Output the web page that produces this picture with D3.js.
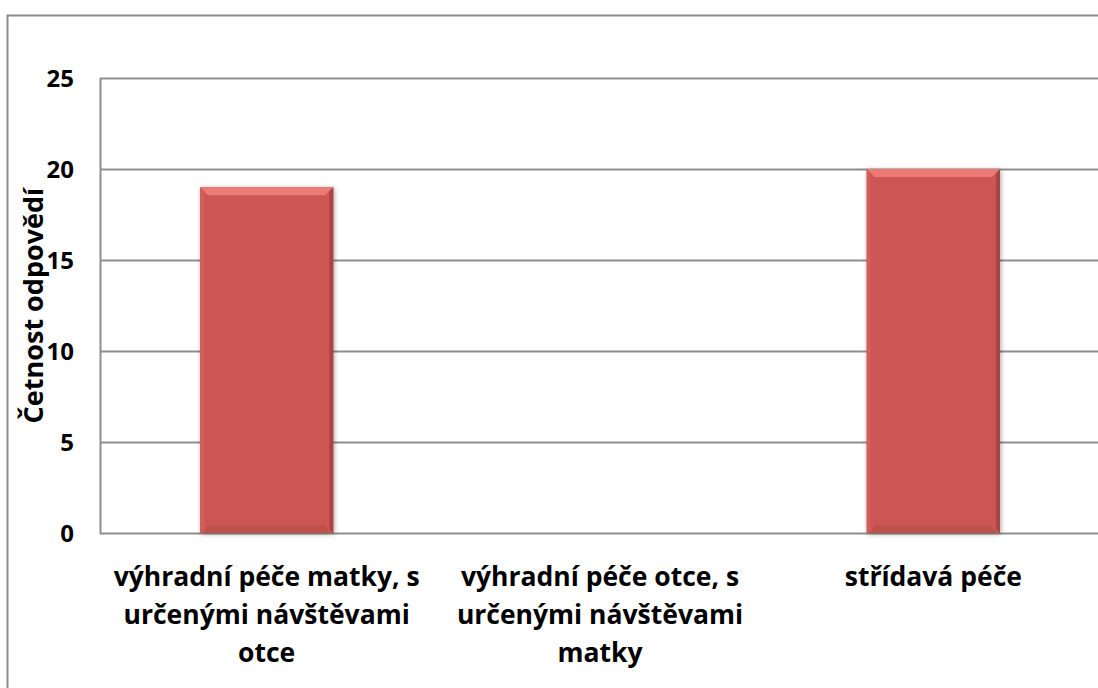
<!DOCTYPE html>
<html>
    <head>
        <meta charset="utf-8">
        <script src="https://d3js.org/d3.v7.min.js"></script>
        <style>
            body{margin:0;background:#fff;}
            text{font-family:"Open Sans", sans-serif;font-weight:bold;fill:#000;}
        </style>
    </head>
    <body>
        <svg height="688" width="1098" id="chart"></svg>
        <script>
            // data
            const categories=["výhradní péče matky, s\nurčenými návštěvami\notce",
                              "výhradní péče otce, s\nurčenými návštěvami\nmatky",
                              "střídavá péče"];
            const counts=[19, 0, 20];
            const yTicks=[0, 5, 10, 15, 20, 25];
            const yTitle="Četnost odpovědí";

            let svg=d3.select("#chart");
            let margin={top:78, right:-2, bottom:155, left:100};
            let width=+svg.attr("width");
            let height=+svg.attr("height");

            // outer chart border (cropped at right and bottom like the original)
            svg.append("rect")
                .attr("x", 7.5).attr("y", 15.5)
                .attr("width", width).attr("height", height)
                .style("fill", "none").style("stroke", "#8c8c8c").style("stroke-width", 2);

            let x=d3.scaleBand()
                .domain(categories)
                .range([margin.left, width-margin.right])
                .paddingInner(0.6)
                .paddingOuter(0.3);
            let y=d3.scaleLinear()
                .domain([0, 25])
                .range([height-margin.bottom, margin.top]);

            let defs=svg.append("defs");
            let sh=defs.append("filter").attr("id", "shadow")
                .attr("x", "-10%").attr("y", "-10%").attr("width", "120%").attr("height", "120%");
            sh.append("feGaussianBlur").attr("in", "SourceAlpha").attr("stdDeviation", 2.5);
            sh.append("feOffset").attr("dx", 1).attr("dy", 1).attr("result", "b");
            sh.append("feComponentTransfer").append("feFuncA").attr("type", "linear").attr("slope", 0.35);
            let mg=sh.append("feMerge");
            mg.append("feMergeNode");
            mg.append("feMergeNode").attr("in", "SourceGraphic");

            // gridlines
            let grid=svg.append("g").attr("class", "grid");
            grid.selectAll("line")
                .data(yTicks)
                .join("line")
                .attr("x1", margin.left).attr("x2", width)
                .attr("y1", d=>Math.round(y(d))+0.5).attr("y2", d=>Math.round(y(d))+0.5)
                .style("stroke", "#8e8e8e").style("stroke-width", 2);
            svg.append("line")
                .attr("x1", margin.left+0.5).attr("x2", margin.left+0.5)
                .attr("y1", y(25)).attr("y2", y(0)+1)
                .style("stroke", "#8e8e8e").style("stroke-width", 2);

            // y tick labels
            svg.append("g").selectAll("text")
                .data(yTicks)
                .join("text")
                .attr("x", margin.left-26)
                .attr("y", d=>y(d))
                .attr("dy", "0.36em")
                .attr("text-anchor", "end")
                .style("font-size", "24px")
                .text(d=>d);

            // y title
            svg.append("text")
                .attr("transform", "translate(" + 43 + "," + (y(0)+y(25))/2 + ") rotate(-90)")
                .attr("text-anchor", "middle")
                .style("font-size", "27px")
                .text(yTitle);

            // bars with a bevel look
            let bev=8;
            let bars=svg.append("g").selectAll("g")
                .data(counts.map((v,i)=>({cat:categories[i], v:v})).filter(d=>d.v>0))
                .join("g");
            bars.append("rect")
                .attr("x", d=>x(d.cat)).attr("y", d=>y(d.v))
                .attr("width", x.bandwidth()).attr("height", d=>y(0)-y(d.v))
                .style("fill", "#cc5652")
                .attr("filter", "url(#shadow)");
            // top bevel
            bars.append("polygon")
                .attr("points", d=>{
                    let x0=x(d.cat), x1=x0+x.bandwidth(), t=y(d.v);
                    return [[x0,t],[x1,t],[x1-bev,t+bev],[x0+bev,t+bev]].join(" ");
                })
                .style("fill", "#ec7a76");
            // right bevel
            bars.append("polygon")
                .attr("points", d=>{
                    let x1=x(d.cat)+x.bandwidth(), t=y(d.v), b=y(0);
                    return [[x1,t],[x1,b],[x1-bev/2,b-bev/2],[x1-bev/2,t+bev/2]].join(" ");
                })
                .style("fill", "#a84542");
            // left bevel
            bars.append("polygon")
                .attr("points", d=>{
                    let x0=x(d.cat), t=y(d.v), b=y(0);
                    return [[x0,t],[x0,b],[x0+bev/2,b-bev/2],[x0+bev/2,t+bev/2]].join(" ");
                })
                .style("fill", "#d35e5a");
            // bottom bevel
            bars.append("polygon")
                .attr("points", d=>{
                    let x0=x(d.cat), x1=x0+x.bandwidth(), b=y(0);
                    return [[x0+bev/2,b],[x1-bev/2,b],[x1-bev,b-bev],[x0+bev,b-bev]].join(" ");
                })
                .style("fill", "#c1504d");

            // category labels
            let labels=svg.append("g").selectAll("text")
                .data(categories)
                .join("text")
                .attr("x", d=>x(d)+x.bandwidth()/2)
                .attr("y", y(0)+53)
                .attr("text-anchor", "middle")
                .style("font-size", "26.5px");
            labels.selectAll("tspan")
                .data(d=>d.split("\n").map((l,i)=>({l:l, i:i, cx:x(d)+x.bandwidth()/2})))
                .join("tspan")
                .attr("x", d=>d.cx)
                .attr("dy", d=>d.i==0 ? 0 : 38)
                .text(d=>d.l);
        </script>
    </body>
</html>
